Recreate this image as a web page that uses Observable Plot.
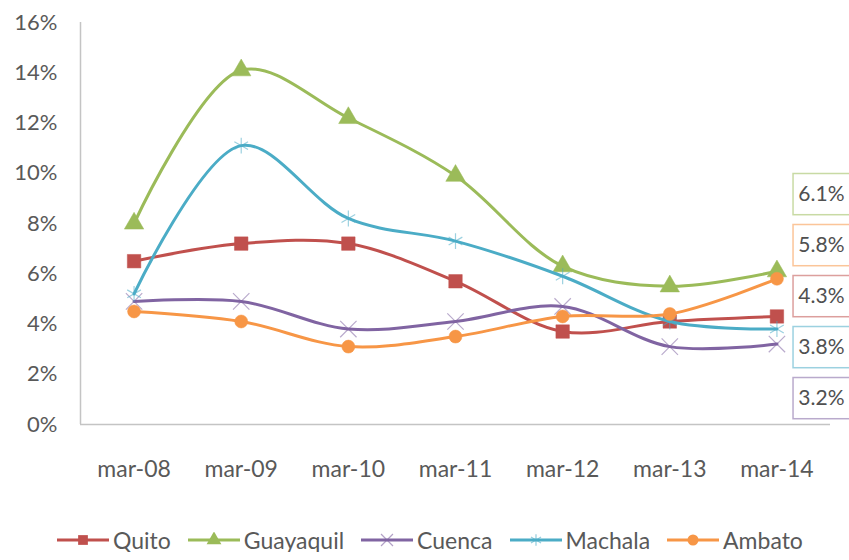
<!DOCTYPE html>
<html><head><meta charset="utf-8">
<script src="https://cdn.jsdelivr.net/npm/d3@7"></script>
<script src="https://cdn.jsdelivr.net/npm/@observablehq/plot@0.6"></script>
<style>
body{margin:0;background:#fff;font-family:Lato,"Open Sans",sans-serif;overflow:hidden}
#chart svg{display:block;overflow:hidden}
.legend{display:flex;align-items:center;padding-left:57px;margin-top:38px;font-size:23px;line-height:24px;color:#595959;height:24px}
.item{display:flex;align-items:center;gap:4px;margin-right:17px}
.item svg{display:block}
</style></head><body><div id="chart"></div><div class="legend" id="legend"></div>
<script>
const months = ["mar-08","mar-09","mar-10","mar-11","mar-12","mar-13","mar-14"];
const series = ["Quito","Guayaquil","Cuenca","Machala","Ambato"];
const colors = ["#C0504D","#9BBB59","#8064A2","#4BACC6","#F79646"];
const symbols = ["square","triangle","times","asterisk","circle"];
const quito     = [6.5, 7.2, 7.2, 5.7, 3.7, 4.1, 4.3];
const guayaquil = [8.0, 14.1, 12.2, 9.9, 6.3, 5.5, 6.1];
const cuenca    = [4.9, 4.9, 3.8, 4.1, 4.7, 3.1, 3.2];
const machala   = [5.2, 11.1, 8.2, 7.3, 5.9, 4.1, 3.8];
const ambato    = [4.5, 4.1, 3.1, 3.5, 4.3, 4.4, 5.8];
const yTicks = [0, 2, 4, 6, 8, 10, 12, 14, 16];

const values = [quito, guayaquil, cuenca, machala, ambato];
const rows = [];
series.forEach((s, i) => values[i].forEach((v, j) => rows.push({series: s, idx: j, value: v})));

// end-value labels, stacked in boxes at the right (sorted high to low)
const last = series.map((s, i) => ({series: s, value: values[i][values[i].length - 1]}))
  .sort((a, b) => b.value - a.value);
last.forEach((d, k) => { d.slot = k; });
const slotTop = 9.15, slotStep = 2.03, slotHalf = 0.82;

const filled = {Quito: true, Guayaquil: true, Ambato: true};
const sizes = {Quito: 7.6, Guayaquil: 7.2, Cuenca: 7.5, Machala: 7.5, Ambato: 6.5};

const marks = [
  Plot.axisY({ticks: yTicks, tickFormat: d => d + "%", tickSize: 0, tickPadding: 23, fontSize: 22, fill: "#595959", label: null}),
  Plot.axisX({ticks: d3.range(months.length), tickFormat: i => months[i], tickSize: 0, tickPadding: 36, fontSize: 23, fill: "#595959", label: null}),
  Plot.ruleX([-0.5], {stroke: "#c4c4c4", strokeWidth: 1.5}),
  Plot.ruleY([0], {stroke: "#c4c4c4", strokeWidth: 1.5})
];
series.forEach(s => {
  const data = rows.filter(r => r.series === s);
  marks.push(Plot.line(data, {x: "idx", y: "value", stroke: "series", strokeWidth: 3, curve: "catmull-rom"}));
  if (filled[s]) {
    marks.push(Plot.dot(data, {x: "idx", y: "value", symbol: "series", fill: "series", stroke: "series", strokeWidth: 0.5, r: sizes[s]}));
  } else {
    marks.push(Plot.dot(data, {x: "idx", y: "value", symbol: "series", stroke: "series", strokeOpacity: 0.55, strokeWidth: 1.2, r: sizes[s]}));
  }
});
marks.push(Plot.rect(last, {
  x1: () => 6.155, x2: () => 6.95,
  y1: d => slotTop - slotStep * d.slot - slotHalf,
  y2: d => slotTop - slotStep * d.slot + slotHalf,
  fill: "white", stroke: "series", strokeOpacity: 0.55, strokeWidth: 1.5
}));
marks.push(Plot.text(last, {
  x: () => 6.2, y: d => slotTop - slotStep * d.slot,
  text: d => d.value.toFixed(1) + "%", textAnchor: "start", fontSize: 21, fill: "#505050"
}));

const chart = Plot.plot({
  width: 849, height: 490,
  marginTop: 22, marginBottom: 66, marginLeft: 80, marginRight: 19,
  style: {fontFamily: "Lato, 'Open Sans', sans-serif", color: "#595959", background: "white"},
  x: {type: "linear", domain: [-0.5, 6.5], axis: null},
  y: {domain: [0, 16], axis: null},
  color: {domain: series, range: colors},
  symbol: {domain: series, range: symbols},
  marks
});
document.getElementById("chart").appendChild(chart);

// legend
const legend = d3.select("#legend");
const symMap = {square: d3.symbolSquare, triangle: d3.symbolTriangle, times: d3.symbolTimes, asterisk: d3.symbolAsterisk, circle: d3.symbolCircle};
series.forEach((s, i) => {
  const item = legend.append("div").attr("class", "item");
  const svg = item.append("svg").attr("width", 52).attr("height", 16);
  svg.append("line").attr("x1", 0).attr("x2", 52).attr("y1", 8).attr("y2", 8)
    .attr("stroke", colors[i]).attr("stroke-width", 3);
  const r = 5.5;
  const path = svg.append("path").attr("transform", "translate(26,8)")
    .attr("d", d3.symbol(symMap[symbols[i]], Math.PI * r * r)());
  if (filled[s]) path.attr("fill", colors[i]);
  else path.attr("fill", "none").attr("stroke", colors[i]).attr("stroke-opacity", 0.6).attr("stroke-width", 1.2);
  item.append("span").text(s);
});
</script>
</body></html>
